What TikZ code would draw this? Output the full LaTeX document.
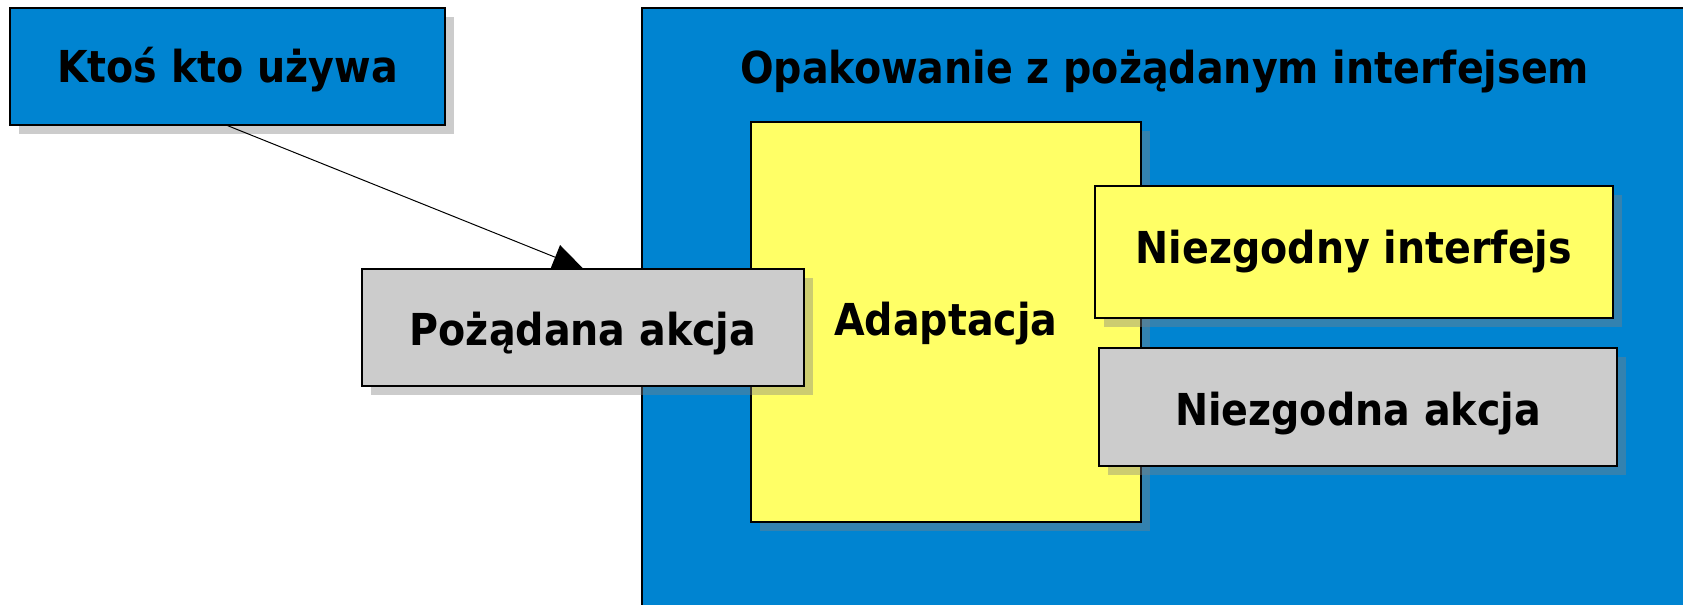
\documentclass[tikz,border=0pt]{standalone}
\usepackage{fontspec}
\setmainfont{DejaVu Sans Condensed}[BoldFont={DejaVu Sans Condensed Bold}]
\usetikzlibrary{shadows,arrows.meta}
\definecolor{boxblue}{HTML}{0084D1}
\definecolor{boxyellow}{HTML}{FFFF66}
\definecolor{boxgray}{HTML}{CCCCCC}
\begin{document}
\begin{tikzpicture}[x=0.5pt,y=-0.5pt,
  lbl/.style={font=\bfseries\fontsize{22}{26}\selectfont, text=black, text height=16pt, text depth=0pt},
  box/.style={draw=black, line width=0.6pt, inner sep=0pt, lbl,
    drop shadow={shadow xshift=4.25pt, shadow yshift=-4.25pt, fill=gray, opacity=0.4}},
  bluebox/.style={box, fill=boxblue},
  yellowbox/.style={box, fill=boxyellow},
  graybox/.style={box, fill=boxgray},
  conn/.style={line width=0.5pt, -{Triangle[length=15pt,width=13pt]}}]
\useasboundingbox (0,0) rectangle (1683,605);
\clip (0,0) rectangle (1683,605);
\node[bluebox, minimum width=522.5pt, minimum height=396pt] (wrap) at (1164.5,404) {};
\node[lbl, inner sep=0pt] (title) at (1164.7,67.5) {Opakowanie z pożądanym interfejsem};
\node[yellowbox, minimum width=195pt, minimum height=200pt, text depth=2.5pt] (adapt) at (946,322) {Adaptacja};
\node[graybox, minimum width=221pt, minimum height=58.5pt, text height=17.5pt] (poz) at (583,327.5) {Pożądana akcja};
\node[yellowbox, minimum width=259pt, minimum height=66pt, text depth=5pt] (nint) at (1354,252) {Niezgodny interfejs};
\node[graybox, minimum width=259pt, minimum height=59pt, text height=18.3pt] (nakc) at (1358,407) {Niezgodna akcja};
\node[bluebox, minimum width=217.5pt, minimum height=58.5pt] (ktos) at (227.5,66.5) {Ktoś kto używa};
\draw[conn] (ktos.south) -- (poz.north);
\end{tikzpicture}
\end{document}
